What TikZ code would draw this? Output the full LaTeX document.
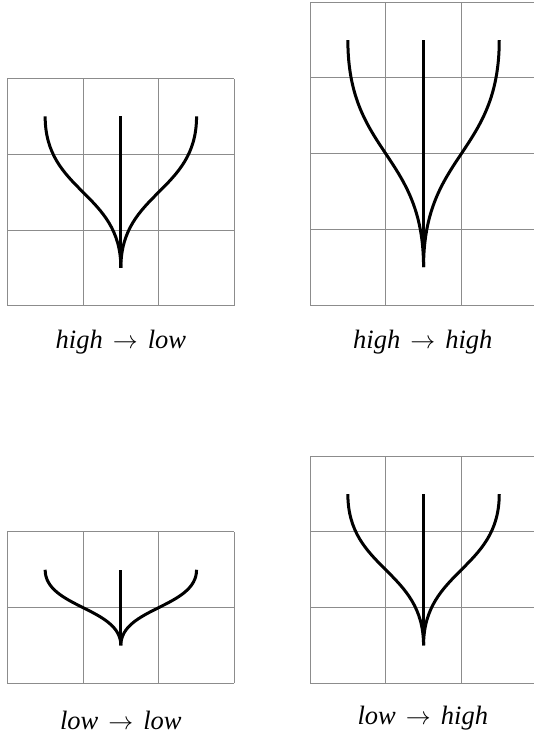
\documentclass[tikz,border=0pt]{standalone}
\usepackage{fontspec}
\setmainfont{Liberation Serif}
\newcommand{\arr}{\hspace{0.38em}$\rightarrow$\hspace{0.38em}}
\begin{document}
\begin{tikzpicture}[x=75.7pt,y=75.7pt,
  gridline/.style={draw=black!45,line width=0.9pt},
  branch/.style={draw=black,line width=3pt},
  caption/.style={anchor=base,font=\fontsize{26.5}{30}\selectfont\itshape,inner sep=0pt}]
\clip (0pt,0pt) rectangle (534pt,-737pt);
\fill[white] (0pt,0pt) rectangle (534pt,-737pt);
% high -> low
\begin{scope}[shift={(7.3pt,-305.7pt)}]
  \draw[gridline,step=75.7pt] (0,0) grid (3,3);
  \coordinate (tlS) at (1.5,0.5);
  \coordinate (tlT) at (1.5,2.5);
  \coordinate (tlL) at (0.5,2.5);
  \coordinate (tlR) at (2.5,2.5);
  \draw[branch] (tlS) -- (tlT);
  \draw[branch] (tlL) .. controls (0.5,1.5) and (1.5,1.5) .. (tlS);
  \draw[branch] (tlR) .. controls (2.5,1.5) and (1.5,1.5) .. (tlS);
  \node[caption] (tlcap) at (1.5,-42.6pt) {high\arr low};
\end{scope}
% high -> high
\begin{scope}[shift={(310pt,-305pt)}]
  \draw[gridline,step=75.7pt] (0,0) grid (3,4);
  \coordinate (trS) at (1.5,0.5);
  \coordinate (trT) at (1.5,3.5);
  \coordinate (trL) at (0.5,3.5);
  \coordinate (trR) at (2.5,3.5);
  \draw[branch] (trS) -- (trT);
  \draw[branch] (trL) .. controls (0.5,2) and (1.5,2) .. (trS);
  \draw[branch] (trR) .. controls (2.5,2) and (1.5,2) .. (trS);
  \node[caption] (trcap) at (1.49,-43.3pt) {high\arr high};
\end{scope}
% low -> low
\begin{scope}[shift={(7.3pt,-683.3pt)}]
  \draw[gridline,step=75.7pt] (0,0) grid (3,2);
  \coordinate (blS) at (1.5,0.5);
  \coordinate (blT) at (1.5,1.5);
  \coordinate (blL) at (0.5,1.5);
  \coordinate (blR) at (2.5,1.5);
  \draw[branch] (blS) -- (blT);
  \draw[branch] (blL) .. controls (0.5,1) and (1.5,1) .. (blS);
  \draw[branch] (blR) .. controls (2.5,1) and (1.5,1) .. (blS);
  \node[caption] (blcap) at (1.5,-46pt) {low\arr low};
\end{scope}
% low -> high
\begin{scope}[shift={(310pt,-683.3pt)}]
  \draw[gridline,step=75.7pt] (0,0) grid (3,3);
  \coordinate (brS) at (1.5,0.5);
  \coordinate (brT) at (1.5,2.5);
  \coordinate (brL) at (0.5,2.5);
  \coordinate (brR) at (2.5,2.5);
  \draw[branch] (brS) -- (brT);
  \draw[branch] (brL) .. controls (0.5,1.5) and (1.5,1.5) .. (brS);
  \draw[branch] (brR) .. controls (2.5,1.5) and (1.5,1.5) .. (brS);
  \node[caption] (brcap) at (1.49,-40.7pt) {low\arr high};
\end{scope}
\end{tikzpicture}
\end{document}
